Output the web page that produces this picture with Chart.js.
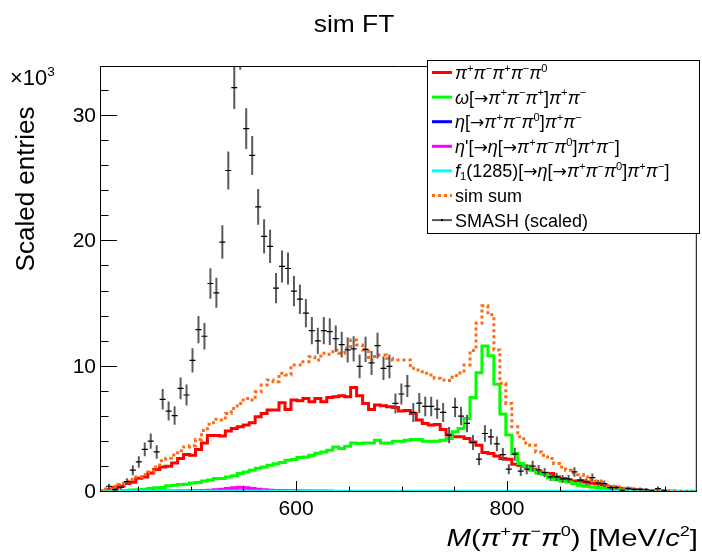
<!DOCTYPE html>
<html>
<head>
<meta charset="utf-8">
<script src="https://cdn.jsdelivr.net/npm/chart.js@4.4.0/dist/chart.umd.min.js"></script>
<style>
  html, body { margin: 0; padding: 0; background: #fff; }
</style>
</head>
<body>
<canvas id="grafica" width="702" height="556"></canvas>
<script>
// binning del histograma, MeV/c^2
const xMin = 414, xMax = 980, nBins = 100;
const xTicks = [600, 800];
const yTicks = [0, 10, 20, 30];
const xMinor = [450, 500, 550, 650, 700, 750, 850, 900, 950];
const yMinor = [2, 4, 6, 8, 12, 14, 16, 18, 22, 24, 26, 28, 32];

// valores en unidades de 10^3
const smash = [null, 0.46, 0.19, 0.38, 0.83, 1.74, 2.4, 3.4, 4.06, 3.2,
  7.4, 6.46, 6.1, 8.27, 7.74, 10.5, 12.96, 12.43, 16.64, 15.9,
  19.95, 25.66, 32.27, 35.5, 29.0, 26.86, 22.75, 20.4, 19.6, 16.27,
  18.0, 17.84, 16.03, 15.39, 14.27, 12.88, 12.06, 12.88, 12.8, 12.24,
  11.76, 11.34, 11.42, 10.03, 11.39, 10.3, 11.68, 9.87, 10.03, 7.07,
  7.82, 8.46, 6.35, 7.1, 6.83, 6.83, 6.62, 6.35, 4.54, 6.75,
  6.06, 5.47, 3.95, 2.62, 4.67, 4.4, 3.84, 2.99, 1.82, 3.02,
  1.66, 1.82, 2.06, 1.76, 1.55, 1.2, 1.2, 1.04, 1.04, 1.6,
  0.94, 0.8, 1.15, 0.72, 0.67, 0.35, 0.35, 0.14, 0.27, 0.21,
  0.21, 0.18, 0.1, 0.27, 0.1, null, null, null, null, null];

const smashErr = [0, 0.2, 0.13, 0.18, 0.27, 0.4, 0.46, 0.55, 0.6, 0.54,
  0.82, 0.76, 0.74, 0.86, 0.83, 0.97, 1.08, 1.06, 1.22, 1.2,
  1.34, 1.52, 1.7, 1.79, 1.62, 1.55, 1.43, 1.36, 1.33, 1.21,
  1.27, 1.27, 1.2, 1.18, 1.13, 1.08, 1.04, 1.08, 1.07, 1.05,
  1.03, 1.01, 1.01, 0.95, 1.01, 0.96, 1.03, 0.94, 0.95, 0.8,
  0.84, 0.87, 0.76, 0.8, 0.78, 0.78, 0.77, 0.76, 0.64, 0.78,
  0.74, 0.7, 0.6, 0.49, 0.65, 0.63, 0.59, 0.52, 0.4, 0.52,
  0.39, 0.4, 0.43, 0.4, 0.37, 0.33, 0.33, 0.31, 0.31, 0.38,
  0.29, 0.27, 0.32, 0.25, 0.25, 0.18, 0.18, 0.11, 0.16, 0.14,
  0.14, 0.13, 0.09, 0.16, 0.09, 0, 0, 0, 0, 0];

const hist4pi = [0.08, 0.19, 0.35, 0.46, 0.67, 0.78, 1.1, 1.2, 1.52, 1.79,
  2.0, 2.06, 2.32, 2.67, 2.99, 2.94, 3.39, 3.92, 4.51, 4.51,
  4.46, 4.86, 5.07, 5.2, 5.34, 5.52, 6.0, 6.27, 6.54, 6.54,
  7.12, 6.59, 7.34, 7.28, 7.47, 7.2, 7.47, 7.2, 7.55, 7.6,
  7.68, 7.6, 8.35, 7.68, 7.07, 6.59, 6.94, 6.88, 6.8, 6.75,
  6.46, 6.51, 6.27, 5.74, 5.47, 5.34, 5.39, 4.99, 4.54, 4.4,
  4.4, 4.27, 4.0, 3.74, 3.15, 3.07, 2.88, 2.67, 2.62, 2.22,
  2.14, 2.06, 1.82, 1.6, 1.5, 1.47, 1.2, 1.07, 0.94, 0.88,
  0.9, 0.8, 0.7, 0.65, 0.5, 0.4, 0.35, 0.27, 0.22, 0.18,
  0.15, 0.12, 0.1, 0.08, 0.06, 0.05, 0.04, 0.03, 0.03, 0.02];

const histOmega = [0.02, 0.04, 0.06, 0.09, 0.12, 0.15, 0.18, 0.21, 0.27, 0.33,
  0.35, 0.5, 0.54, 0.59, 0.62, 0.72, 0.75, 0.88, 0.95, 1.07,
  1.07, 1.2, 1.3, 1.47, 1.6, 1.74, 1.9, 2.0, 2.14, 2.25,
  2.35, 2.54, 2.6, 2.75, 2.8, 2.94, 3.1, 3.2, 3.34, 3.6,
  3.47, 3.66, 3.92, 3.87, 3.92, 3.92, 4.14, 3.92, 3.92, 4.06,
  4.06, 4.14, 4.2, 4.2, 4.06, 4.06, 4.06, 4.14, 4.27, 4.8,
  5.07, 5.87, 7.55, 9.52, 11.66, 10.88, 8.59, 6.22, 4.54, 3.07,
  2.27, 2.06, 1.74, 1.52, 1.39, 1.15, 0.99, 0.88, 0.8, 0.67,
  0.54, 0.45, 0.4, 0.35, 0.3, 0.27, 0.2, 0.17, 0.14, 0.12,
  0.1, 0.08, 0.07, 0.06, 0.05, 0.04, 0.03, 0.03, 0.02, 0.02];

const histEta = [0.01, 0.02, 0.02, 0.03, 0.03, 0.03, 0.04, 0.04, 0.04, 0.05,
  0.05, 0.05, 0.05, 0.06, 0.06, 0.06, 0.06, 0.06, 0.07, 0.07,
  0.07, 0.07, 0.07, 0.07, 0.07, 0.07, 0.06, 0.06, 0.06, 0.06,
  0.06, 0.06, 0.05, 0.05, 0.05, 0.05, 0.05, 0.05, 0.05, 0.04,
  0.04, 0.04, 0.04, 0.04, 0.04, 0.04, 0.04, 0.04, 0.03, 0.03,
  0.03, 0.03, 0.03, 0.03, 0.03, 0.03, 0.03, 0.03, 0.03, 0.03,
  0.03, 0.03, 0.03, 0.03, 0.03, 0.03, 0.02, 0.02, 0.02, 0.02,
  0.02, 0.02, 0.02, 0.02, 0.02, 0.02, 0.02, 0.02, 0.02, 0.02,
  0.02, 0.02, 0.01, 0.01, 0.01, 0.01, 0.01, 0.01, 0.01, 0.01,
  0.01, 0.01, 0.01, 0.01, 0.01, 0.01, 0.01, 0.01, 0.01, 0.01];

const histEtaP = [0.01, 0.01, 0.01, 0.02, 0.02, 0.02, 0.03, 0.03, 0.04, 0.04,
  0.05, 0.05, 0.06, 0.07, 0.08, 0.09, 0.1, 0.12, 0.14, 0.17,
  0.21, 0.27, 0.33, 0.38, 0.34, 0.28, 0.22, 0.17, 0.14, 0.12,
  0.11, 0.1, 0.09, 0.08, 0.07, 0.06, 0.05, 0.05, 0.04, 0.04,
  0.03, 0.03, 0.03, 0.03, 0.03, 0.03, 0.02, 0.02, 0.02, 0.02,
  0.02, 0.02, 0.02, 0.02, 0.02, 0.02, 0.02, 0.02, 0.02, 0.02,
  0.01, 0.01, 0.01, 0.01, 0.01, 0.01, 0.01, 0.01, 0.01, 0.01,
  0.01, 0.01, 0.01, 0.01, 0.01, 0.01, 0.01, 0.01, 0.01, 0.01,
  0.01, 0.01, 0.01, 0.01, 0.01, 0.01, 0.01, 0.01, 0.01, 0.01,
  0.01, 0.01, 0.01, 0.01, 0.01, 0.01, 0.01, 0.01, 0.01, 0.01];

const histF1 = [0.05, 0.05, 0.05, 0.06, 0.06, 0.06, 0.06, 0.06, 0.06, 0.06,
  0.06, 0.06, 0.06, 0.06, 0.06, 0.06, 0.06, 0.06, 0.06, 0.06,
  0.06, 0.06, 0.06, 0.06, 0.06, 0.06, 0.06, 0.06, 0.06, 0.06,
  0.06, 0.06, 0.06, 0.06, 0.06, 0.06, 0.06, 0.06, 0.06, 0.06,
  0.06, 0.06, 0.06, 0.06, 0.06, 0.06, 0.06, 0.06, 0.06, 0.06,
  0.06, 0.06, 0.06, 0.06, 0.06, 0.06, 0.06, 0.06, 0.06, 0.06,
  0.06, 0.06, 0.06, 0.06, 0.06, 0.06, 0.06, 0.06, 0.06, 0.06,
  0.06, 0.06, 0.06, 0.06, 0.06, 0.06, 0.06, 0.06, 0.06, 0.06,
  0.06, 0.06, 0.06, 0.06, 0.06, 0.06, 0.06, 0.06, 0.06, 0.06,
  0.06, 0.06, 0.06, 0.06, 0.06, 0.06, 0.06, 0.06, 0.06, 0.06];

const simSum = [0.1, 0.25, 0.46, 0.6, 0.86, 1.0, 1.2, 1.4, 1.6, 2.0,
  2.5, 2.7, 2.95, 3.3, 3.6, 3.7, 4.2, 4.9, 5.4, 5.8,
  5.74, 6.27, 6.67, 7.07, 7.47, 7.34, 8.0, 8.54, 8.94, 8.8,
  9.47, 9.34, 10.14, 10.14, 10.4, 10.8, 10.54, 11.07, 11.0, 11.34,
  11.07, 11.47, 12.14, 11.74, 11.34, 10.54, 10.94, 10.94, 10.67, 10.54,
  10.54, 10.54, 9.87, 9.74, 9.47, 9.34, 9.07, 8.94, 8.9, 9.3,
  9.5, 10.14, 11.3, 13.47, 14.86, 14.14, 11.34, 8.67, 7.07, 5.2,
  4.4, 3.92, 3.74, 3.2, 2.94, 2.67, 2.27, 2.0, 1.74, 1.5,
  1.4, 1.2, 0.99, 0.87, 0.62, 0.47, 0.4, 0.3, 0.3, 0.22,
  0.17, 0.17, 0.12, 0.15, 0.12, 0.1, 0.1, 0.06, 0.05, 0.05];

const FAMILY = '"Liberation Sans", Arial, Helvetica, sans-serif';
const binW = (xMax - xMin) / nBins;

// puntos del histograma: centros de bin, mas los bordes
function histPoints(vals) {
  let pts = [{ x: xMin, y: vals[0] }];
  vals.forEach((v, i) => pts.push({ x: xMin + (i + 0.5) * binW, y: v }));
  pts.push({ x: xMax, y: vals[vals.length - 1] });
  return pts;
}

function histDataset(label, vals, color, order, dash) {
  return {
    label: label,
    data: histPoints(vals),
    stepped: 'middle',
    borderColor: color,
    borderWidth: 3,
    borderDash: dash || [],
    borderJoinStyle: 'miter',
    borderCapStyle: 'butt',
    pointRadius: 0,
    fill: false,
    order: order
  };
}

// texto con cursiva / superindices / flecha
function drawRich(ctx, parts, x, y, size, align, sx) {
  sx = sx || 1;
  const fontFor = st => {
    if (st.includes('a')) return size * 0.95 + 'px "DejaVu Sans", sans-serif';
    const small = st.includes('^') || st.includes('_');
    return (st.includes('i') ? 'italic ' : '') + (small ? size * 0.62 : size) + 'px ' + FAMILY;
  };
  let total = 0;
  parts.forEach(p => { ctx.font = fontFor(p[1]); total += ctx.measureText(p[0]).width; });
  let x0 = x;
  if (align === 'right') x0 = x - total * sx;
  if (align === 'center') x0 = x - total * sx / 2;
  ctx.save();
  ctx.translate(x0, y);
  ctx.scale(sx, 1);
  ctx.textAlign = 'left';
  ctx.textBaseline = 'alphabetic';
  ctx.fillStyle = '#000';
  let cx = 0;
  parts.forEach(p => {
    ctx.font = fontFor(p[1]);
    let dy = 0;
    if (p[1].includes('^')) dy = -0.4 * size;
    if (p[1].includes('_')) dy = 0.15 * size;
    ctx.fillText(p[0], cx, dy);
    cx += ctx.measureText(p[0]).width;
  });
  ctx.restore();
}

const pi = s => [['\u03c0', 'i'], [s, '^']];
const ppp0 = [].concat(pi('+'), pi('\u2212'), pi('0'));
const pp = [].concat(pi('+'), pi('\u2212'));
const flecha = [['[', ''], ['\u2192', 'a']];

const legendItems = [
  { color: '#ff0000', parts: [].concat(pi('+'), pi('\u2212'), pi('+'), pi('\u2212'), pi('0')) },
  { color: '#00ff00', parts: [].concat([['\u03c9', 'i']], flecha, pi('+'), pi('\u2212'), pi('+'), [[']', '']], pp) },
  { color: '#0000ff', parts: [].concat([['\u03b7', 'i']], flecha, ppp0, [[']', '']], pp) },
  { color: '#ff00ff', parts: [].concat([['\u03b7', 'i'], ["'", '']], flecha, [['\u03b7', 'i']], flecha, ppp0, [[']', '']], pp, [[']', '']]) },
  { color: '#00ffff', parts: [].concat([['f', 'i'], ['1', '_'], ['(1285)', '']], flecha, [['\u03b7', 'i']], flecha, ppp0, [[']', '']], pp, [[']', '']]) },
  { color: '#ff6a13', dash: [3, 3], parts: [['sim sum', '']] },
  { color: '#555555', smash: true, parts: [['SMASH (scaled)', '']] }
];

const decoracion = {
  id: 'decoracion',
  beforeDatasetDraw(chart, args) {
    if (args.index !== 0) return;
    // barras de error de SMASH
    const ctx = chart.ctx, ys = chart.scales.y, a = chart.chartArea;
    const meta = chart.getDatasetMeta(0);
    ctx.save();
    ctx.beginPath();
    ctx.rect(a.left, a.top, a.right - a.left, a.bottom - a.top);
    ctx.clip();
    ctx.strokeStyle = '#5a5a5a';
    ctx.lineWidth = 2;
    meta.data.forEach((pt, i) => {
      if (smash[i] === null) return;
      const y1 = ys.getPixelForValue(smash[i] - smashErr[i]);
      const y2 = ys.getPixelForValue(smash[i] + smashErr[i]);
      ctx.beginPath();
      ctx.moveTo(pt.x, y1);
      ctx.lineTo(pt.x, y2);
      ctx.stroke();
    });
    ctx.restore();
  },
  afterDraw(chart) {
    const ctx = chart.ctx, a = chart.chartArea;
    const xs = chart.scales.x, ys = chart.scales.y;
    ctx.save();
    // marco
    ctx.strokeStyle = '#000';
    ctx.lineWidth = 1;
    ctx.beginPath();
    ctx.moveTo(a.left + 0.5, a.bottom);
    ctx.lineTo(a.left + 0.5, a.top + 0.5);
    ctx.lineTo(a.right - 0.5, a.top + 0.5);
    ctx.lineTo(a.right - 0.5, a.bottom);
    ctx.stroke();
    ctx.beginPath();
    ctx.moveTo(a.left, a.bottom - 0.5);
    ctx.lineTo(a.right, a.bottom - 0.5);
    ctx.stroke();
    // marcas dentro del marco
    ctx.beginPath();
    yTicks.forEach(v => { const y = Math.round(ys.getPixelForValue(v)) - 0.5; ctx.moveTo(a.left, y); ctx.lineTo(a.left + 17, y); });
    yMinor.forEach(v => { const y = Math.round(ys.getPixelForValue(v)) - 0.5; ctx.moveTo(a.left, y); ctx.lineTo(a.left + 8.5, y); });
    xTicks.forEach(v => { const x = Math.round(xs.getPixelForValue(v)) + 0.5; ctx.moveTo(x, a.bottom); ctx.lineTo(x, a.bottom - 11); });
    xMinor.forEach(v => { const x = Math.round(xs.getPixelForValue(v)) + 0.5; ctx.moveTo(x, a.bottom); ctx.lineTo(x, a.bottom - 5.5); });
    ctx.stroke();

    // leyenda
    const lx = 427, ly = 60, lw = 272, lh = 173;
    ctx.fillStyle = '#fff';
    ctx.fillRect(lx, ly, lw, lh);
    ctx.strokeStyle = '#000';
    ctx.lineWidth = 1;
    ctx.strokeRect(lx + 0.5, ly + 0.5, lw, lh);
    legendItems.forEach((it, k) => {
      const yc = 72.5 + k * 24.6;
      ctx.save();
      ctx.strokeStyle = it.color;
      ctx.lineWidth = it.smash ? 2 : 3;
      ctx.setLineDash(it.dash || []);
      ctx.beginPath();
      ctx.moveTo(432, yc);
      ctx.lineTo(452, yc);
      ctx.stroke();
      ctx.restore();
      if (it.smash) {
        ctx.fillStyle = '#000';
        ctx.fillRect(441, yc - 1, 2, 2);
      }
      drawRich(ctx, it.parts, 455, yc + 6.5, 18, 'left');
    });

    // titulos
    drawRich(ctx, [['sim FT', '']], 354, 32, 24, 'center', 1.1);
    drawRich(ctx, [['\u00d710', ''], ['3', '^']], 10, 85, 22, 'left');
    drawRich(ctx, [['M', 'i'], ['(', '']].concat(ppp0, [[') [MeV/', ''], ['c', 'i'], ['2', '^'], [']', '']]),
      698, 546, 24, 'right', 1.22);
    ctx.save();
    ctx.translate(24, 189);
    ctx.rotate(-Math.PI / 2);
    drawRich(ctx, [['Scaled entries', '']], 0, 9.5, 26, 'center');
    ctx.restore();
    ctx.restore();
  }
};

new Chart(document.getElementById('grafica').getContext('2d'), {
  type: 'line',
  data: {
    datasets: [
      {
        label: 'SMASH (scaled)',
        data: smash.map((v, i) => ({ x: xMin + (i + 0.5) * binW, y: v })),
        showLine: false,
        pointStyle: 'line',
        pointRadius: 3,
        pointBorderWidth: 1.2,
        pointBorderColor: '#000',
        borderColor: '#000',
        order: 0
      },
      histDataset('sim sum', simSum, '#ff6a13', 1, [3, 3]),
      histDataset('f1', histF1, '#00ffff', 2),
      histDataset('etap', histEtaP, '#ff00ff', 3),
      histDataset('eta', histEta, '#0000ff', 4),
      histDataset('omega', histOmega, '#00ff00', 5),
      histDataset('4pi', hist4pi, '#ff0000', 6)
    ]
  },
  options: {
    responsive: false,
    animation: false,
    devicePixelRatio: 1,
    events: [],
    layout: { padding: { top: 66, right: 2, left: 0, bottom: 0 } },
    plugins: { legend: { display: false }, tooltip: { enabled: false } },
    scales: {
      x: {
        type: 'linear',
        min: xMin,
        max: xMax,
        grid: { display: false, drawTicks: false, tickLength: 0 },
        border: { display: false },
        afterBuildTicks: s => { s.ticks = xTicks.map(v => ({ value: v })); },
        afterFit: s => { s.height = 64; },
        ticks: { font: { family: FAMILY, size: 21 }, color: '#000', padding: 5, maxRotation: 0, autoSkip: false }
      },
      y: {
        type: 'linear',
        min: 0,
        max: 34,
        grid: { display: false, drawTicks: false, tickLength: 0 },
        border: { display: false },
        afterBuildTicks: s => { s.ticks = yTicks.map(v => ({ value: v })); },
        afterFit: s => { s.width = 100; },
        ticks: { font: { family: FAMILY, size: 21 }, color: '#000', padding: 4 }
      }
    }
  },
  plugins: [decoracion]
});
</script>
</body>
</html>
